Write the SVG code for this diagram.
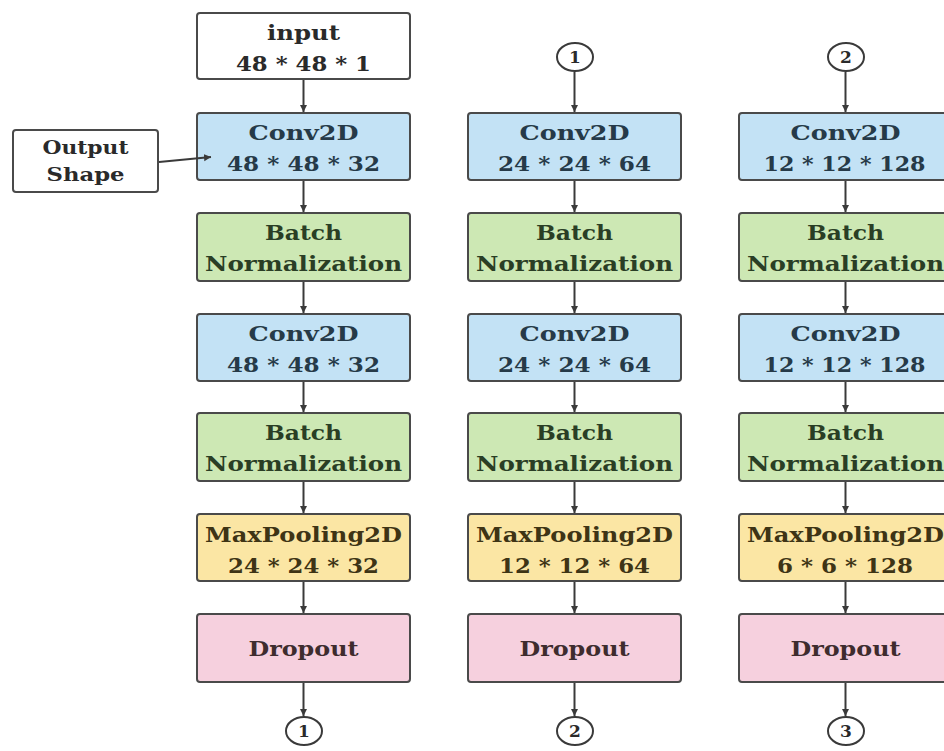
<svg xmlns="http://www.w3.org/2000/svg" width="944" height="751" viewBox="0 0 944 751">
<defs>
<marker id="ah" markerWidth="8" markerHeight="8" refX="7" refY="4" orient="auto" markerUnits="userSpaceOnUse">
<path d="M0,0.5 L7,4 L0,7.5 Z" fill="#3a3a3a"/>
</marker>
<style>
.box{stroke:#4a4a4a;stroke-width:2}
.w{fill:#ffffff}
.conv{fill:#c3e2f5}
.bn{fill:#cde8b4}
.mp{fill:#fbe6a4}
.dp{fill:#f6d0de}
.t{font-family:"DejaVu Serif","Liberation Serif",serif;font-weight:bold;font-size:21px;text-anchor:middle}
.tc{fill:#263a48}
.tb{fill:#2a3e25}
.tm{fill:#3e3415}
.td{fill:#3e2c2e}
.tk{fill:#2a2a2a}
.cn{font-family:"DejaVu Serif","Liberation Serif",serif;font-weight:bold;font-size:17px;text-anchor:middle;fill:#2a2a2a}
.con{stroke:#3a3a3a;stroke-width:2;fill:none;marker-end:url(#ah)}
.circ{fill:#ffffff;stroke:#3a3a3a;stroke-width:2}
</style>
</defs>
<rect width="944" height="751" fill="#ffffff"/>

<!-- Column 1 -->
<g id="input">
<rect class="box w" x="197" y="13" width="213" height="66" rx="3"/>
<text class="t tk" x="303.5" y="40" textLength="73" lengthAdjust="spacingAndGlyphs">input</text>
<text class="t tk" x="303.5" y="71" textLength="135" lengthAdjust="spacingAndGlyphs">48 * 48 * 1</text>
</g>
<g id="output-shape">
<rect class="box w" x="13" y="130" width="145" height="62" rx="3"/>
<text class="t tk" x="85.5" y="154" textLength="86" lengthAdjust="spacingAndGlyphs" style="font-size:19px">Output</text>
<text class="t tk" x="85.5" y="181" textLength="78" lengthAdjust="spacingAndGlyphs" style="font-size:19px">Shape</text>
</g>
<g id="c1-conv1">
<rect class="box conv" x="197" y="113" width="213" height="67" rx="3"/>
<text class="t tc" x="303.5" y="140" textLength="110" lengthAdjust="spacingAndGlyphs">Conv2D</text>
<text class="t tc" x="303.5" y="171" textLength="153" lengthAdjust="spacingAndGlyphs">48 * 48 * 32</text>
</g>
<g id="c1-bn1">
<rect class="box bn" x="197" y="213" width="213" height="68" rx="3"/>
<text class="t tb" x="303.5" y="240" textLength="77" lengthAdjust="spacingAndGlyphs">Batch</text>
<text class="t tb" x="303.5" y="271" textLength="197" lengthAdjust="spacingAndGlyphs">Normalization</text>
</g>
<g id="c1-conv2">
<rect class="box conv" x="197" y="314" width="213" height="67" rx="3"/>
<text class="t tc" x="303.5" y="341" textLength="110" lengthAdjust="spacingAndGlyphs">Conv2D</text>
<text class="t tc" x="303.5" y="372" textLength="153" lengthAdjust="spacingAndGlyphs">48 * 48 * 32</text>
</g>
<g id="c1-bn2">
<rect class="box bn" x="197" y="413" width="213" height="68" rx="3"/>
<text class="t tb" x="303.5" y="440" textLength="77" lengthAdjust="spacingAndGlyphs">Batch</text>
<text class="t tb" x="303.5" y="471" textLength="197" lengthAdjust="spacingAndGlyphs">Normalization</text>
</g>
<g id="c1-mp">
<rect class="box mp" x="197" y="514" width="213" height="67" rx="3"/>
<text class="t tm" x="303.5" y="542" textLength="197" lengthAdjust="spacingAndGlyphs">MaxPooling2D</text>
<text class="t tm" x="303.5" y="573" textLength="151" lengthAdjust="spacingAndGlyphs">24 * 24 * 32</text>
</g>
<g id="c1-dp">
<rect class="box dp" x="197" y="614" width="213" height="68" rx="3"/>
<text class="t td" x="303.5" y="656" textLength="110" lengthAdjust="spacingAndGlyphs">Dropout</text>
</g>
<g id="c1-out">
<ellipse class="circ" cx="304" cy="731" rx="18" ry="14"/>
<text class="cn" x="304" y="737">1</text>
</g>

<!-- Column 2 -->
<g id="c2-in">
<ellipse class="circ" cx="575" cy="57" rx="18" ry="14"/>
<text class="cn" x="575" y="63">1</text>
</g>
<g id="c2-conv1">
<rect class="box conv" x="468" y="113" width="213" height="67" rx="3"/>
<text class="t tc" x="574.5" y="140" textLength="110" lengthAdjust="spacingAndGlyphs">Conv2D</text>
<text class="t tc" x="574.5" y="171" textLength="153" lengthAdjust="spacingAndGlyphs">24 * 24 * 64</text>
</g>
<g id="c2-bn1">
<rect class="box bn" x="468" y="213" width="213" height="68" rx="3"/>
<text class="t tb" x="574.5" y="240" textLength="77" lengthAdjust="spacingAndGlyphs">Batch</text>
<text class="t tb" x="574.5" y="271" textLength="197" lengthAdjust="spacingAndGlyphs">Normalization</text>
</g>
<g id="c2-conv2">
<rect class="box conv" x="468" y="314" width="213" height="67" rx="3"/>
<text class="t tc" x="574.5" y="341" textLength="110" lengthAdjust="spacingAndGlyphs">Conv2D</text>
<text class="t tc" x="574.5" y="372" textLength="153" lengthAdjust="spacingAndGlyphs">24 * 24 * 64</text>
</g>
<g id="c2-bn2">
<rect class="box bn" x="468" y="413" width="213" height="68" rx="3"/>
<text class="t tb" x="574.5" y="440" textLength="77" lengthAdjust="spacingAndGlyphs">Batch</text>
<text class="t tb" x="574.5" y="471" textLength="197" lengthAdjust="spacingAndGlyphs">Normalization</text>
</g>
<g id="c2-mp">
<rect class="box mp" x="468" y="514" width="213" height="67" rx="3"/>
<text class="t tm" x="574.5" y="542" textLength="197" lengthAdjust="spacingAndGlyphs">MaxPooling2D</text>
<text class="t tm" x="574.5" y="573" textLength="151" lengthAdjust="spacingAndGlyphs">12 * 12 * 64</text>
</g>
<g id="c2-dp">
<rect class="box dp" x="468" y="614" width="213" height="68" rx="3"/>
<text class="t td" x="574.5" y="656" textLength="110" lengthAdjust="spacingAndGlyphs">Dropout</text>
</g>
<g id="c2-out">
<ellipse class="circ" cx="575" cy="731" rx="18" ry="14"/>
<text class="cn" x="575" y="737">2</text>
</g>

<!-- Column 3 -->
<g id="c3-in">
<ellipse class="circ" cx="846" cy="57" rx="18" ry="14"/>
<text class="cn" x="846" y="63">2</text>
</g>
<g id="c3-conv1">
<rect class="box conv" x="739" y="113" width="213" height="67" rx="3"/>
<text class="t tc" x="845.5" y="140" textLength="110" lengthAdjust="spacingAndGlyphs">Conv2D</text>
<text class="t tc" x="844.5" y="171" textLength="162" lengthAdjust="spacingAndGlyphs">12 * 12 * 128</text>
</g>
<g id="c3-bn1">
<rect class="box bn" x="739" y="213" width="213" height="68" rx="3"/>
<text class="t tb" x="845.5" y="240" textLength="77" lengthAdjust="spacingAndGlyphs">Batch</text>
<text class="t tb" x="845.5" y="271" textLength="197" lengthAdjust="spacingAndGlyphs">Normalization</text>
</g>
<g id="c3-conv2">
<rect class="box conv" x="739" y="314" width="213" height="67" rx="3"/>
<text class="t tc" x="845.5" y="341" textLength="110" lengthAdjust="spacingAndGlyphs">Conv2D</text>
<text class="t tc" x="844.5" y="372" textLength="162" lengthAdjust="spacingAndGlyphs">12 * 12 * 128</text>
</g>
<g id="c3-bn2">
<rect class="box bn" x="739" y="413" width="213" height="68" rx="3"/>
<text class="t tb" x="845.5" y="440" textLength="77" lengthAdjust="spacingAndGlyphs">Batch</text>
<text class="t tb" x="845.5" y="471" textLength="197" lengthAdjust="spacingAndGlyphs">Normalization</text>
</g>
<g id="c3-mp">
<rect class="box mp" x="739" y="514" width="213" height="67" rx="3"/>
<text class="t tm" x="845.5" y="542" textLength="197" lengthAdjust="spacingAndGlyphs">MaxPooling2D</text>
<text class="t tm" x="845" y="573" textLength="136" lengthAdjust="spacingAndGlyphs">6 * 6 * 128</text>
</g>
<g id="c3-dp">
<rect class="box dp" x="739" y="614" width="213" height="68" rx="3"/>
<text class="t td" x="845.5" y="656" textLength="110" lengthAdjust="spacingAndGlyphs">Dropout</text>
</g>
<g id="c3-out">
<ellipse class="circ" cx="846" cy="731" rx="18" ry="14"/>
<text class="cn" x="846" y="737">3</text>
</g>

<g id="connectors">
<line class="con" x1="303.5" y1="80" x2="303.5" y2="112"/>
<line class="con" x1="303.5" y1="181" x2="303.5" y2="212"/>
<line class="con" x1="303.5" y1="282" x2="303.5" y2="313"/>
<line class="con" x1="303.5" y1="382" x2="303.5" y2="412"/>
<line class="con" x1="303.5" y1="482" x2="303.5" y2="513"/>
<line class="con" x1="303.5" y1="582" x2="303.5" y2="613"/>
<line class="con" x1="303.5" y1="683" x2="303.5" y2="716"/>
<line class="con" x1="159" y1="162" x2="211" y2="157"/>

<line class="con" x1="574.5" y1="72" x2="574.5" y2="112"/>
<line class="con" x1="574.5" y1="181" x2="574.5" y2="212"/>
<line class="con" x1="574.5" y1="282" x2="574.5" y2="313"/>
<line class="con" x1="574.5" y1="382" x2="574.5" y2="412"/>
<line class="con" x1="574.5" y1="482" x2="574.5" y2="513"/>
<line class="con" x1="574.5" y1="582" x2="574.5" y2="613"/>
<line class="con" x1="574.5" y1="683" x2="574.5" y2="716"/>

<line class="con" x1="845.5" y1="72" x2="845.5" y2="112"/>
<line class="con" x1="845.5" y1="181" x2="845.5" y2="212"/>
<line class="con" x1="845.5" y1="282" x2="845.5" y2="313"/>
<line class="con" x1="845.5" y1="382" x2="845.5" y2="412"/>
<line class="con" x1="845.5" y1="482" x2="845.5" y2="513"/>
<line class="con" x1="845.5" y1="582" x2="845.5" y2="613"/>
<line class="con" x1="845.5" y1="683" x2="845.5" y2="716"/>
</g>
</svg>
